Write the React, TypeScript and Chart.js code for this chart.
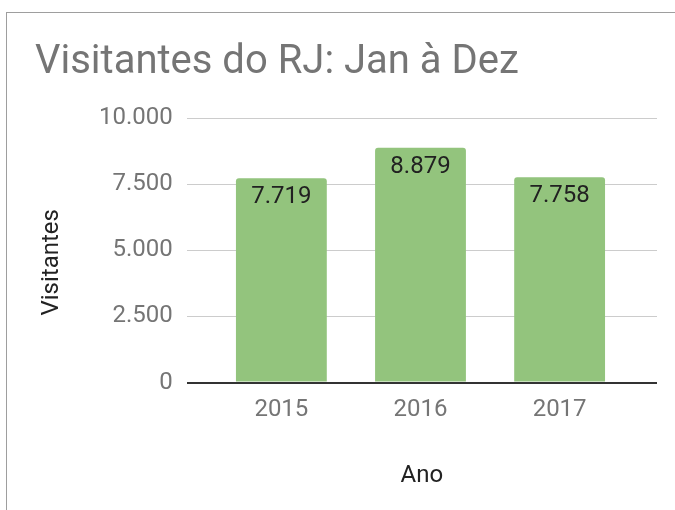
import React, { useEffect, useRef } from "react";
import { Chart, registerables } from "chart.js";

Chart.register(...registerables);

const categories = ["2015", "2016", "2017"];
const visitantes = [7719, 8879, 7758];
const yTicks = [0, 2500, 5000, 7500, 10000];
const chartTitle = "Visitantes do RJ: Jan à Dez";
const xTitle = "Ano";
const yTitle = "Visitantes";

const fmt = (v: number) =>
  String(Math.round(v)).replace(/\B(?=(\d{3})+(?!\d))/g, ".");

const FONT = "Roboto";

const valueLabels = {
  id: "valueLabels",
  afterDatasetsDraw(chart: any) {
    const ctx = chart.ctx;
    const meta = chart.getDatasetMeta(0);
    ctx.save();
    ctx.font = `24px ${FONT}`;
    ctx.fillStyle = "#212121";
    ctx.textAlign = "center";
    ctx.textBaseline = "middle";
    meta.data.forEach((bar: any, i: number) => {
      ctx.fillText(fmt(visitantes[i]), bar.x, bar.y + 19);
    });
    ctx.restore();
  },
};

const yAxisTitle = {
  id: "yAxisTitle",
  afterDraw(chart: any) {
    const { ctx, chartArea, scales } = chart;
    const y = scales.y;
    ctx.save();
    ctx.translate(y.left + 16.5, (chartArea.top + chartArea.bottom) / 2 + 12);
    ctx.rotate(-Math.PI / 2);
    ctx.font = `24px ${FONT}`;
    ctx.fillStyle = "#222222";
    ctx.textAlign = "center";
    ctx.textBaseline = "middle";
    ctx.fillText(yTitle, 0, 0);
    ctx.restore();
  },
};

export default function App() {
  const ref = useRef<HTMLCanvasElement | null>(null);

  useEffect(() => {
    if (!ref.current) return;
    const chart = new Chart(ref.current, {
      type: "bar",
      data: {
        datasets: [
          {
            label: yTitle,
            data: visitantes.map((v, i) => ({ x: i, y: v })),
            backgroundColor: "#93c47d",
            borderRadius: 3,
            barPercentage: 0.653,
            categoryPercentage: 1,
          },
        ],
      },
      options: {
        responsive: false,
        animation: false,
        devicePixelRatio: 1,
        layout: { padding: { left: 35, right: 18, top: 0, bottom: 0 } },
        plugins: {
          legend: { display: false },
          tooltip: { enabled: false },
          title: {
            display: true,
            text: chartTitle,
            align: "start",
            color: "#757575",
            font: { family: FONT, size: 40, weight: "normal" },
            padding: { top: 39, bottom: 31 },
          },
        },
        scales: {
          x: {
            type: "linear",
            min: -0.68,
            max: 2.7,
            offset: false,
            afterBuildTicks: (s: any) => {
              s.ticks = categories.map((_, i) => ({ value: i }));
            },
            ticks: {
              callback: (v: any) => categories[v] ?? "",
              color: "#757575",
              font: { family: FONT, size: 24 },
              padding: 13.4,
              autoSkip: false,
              maxRotation: 0,
            },
            grid: { display: false, drawTicks: false },
            border: { display: false },
            title: {
              display: true,
              text: xTitle,
              color: "#222222",
              font: { family: FONT, size: 24 },
              padding: { top: 23.2, bottom: 19.8 },
            },
          },
          y: {
            type: "linear",
            min: 0,
            max: 10000,
            afterBuildTicks: (s: any) => {
              s.ticks = yTicks.map((v) => ({ value: v }));
            },
            afterFit: (s: any) => {
              s.width += 50;
            },
            ticks: {
              callback: (v: any) => fmt(Number(v)),
              color: "#757575",
              font: { family: FONT, size: 24 },
              padding: 14,
            },
            grid: {
              drawTicks: false,
              color: (c: any) => (c.tick && c.tick.value === 0 ? "#333333" : "#cccccc"),
              lineWidth: (c: any) => (c.tick && c.tick.value === 0 ? 2 : 1),
            },
            border: { display: false },
          },
        },
      } as any,
      plugins: [valueLabels, yAxisTitle],
    });
    return () => chart.destroy();
  }, []);

  return (
    <div
      style={{
        position: "fixed",
        left: 0,
        top: 0,
        width: 675,
        height: 510,
        background: "#ffffff",
        overflow: "hidden",
      }}
    >
      <div
        style={{
          position: "absolute",
          left: 6,
          top: 12,
          width: 700,
          height: 520,
          borderLeft: "1px solid #9e9e9e",
          borderTop: "1px solid #9e9e9e",
        }}
      />
      <canvas
        ref={ref}
        width={675}
        height={510}
        style={{ position: "absolute", left: 0, top: 0, width: 675, height: 510 }}
      />
    </div>
  );
}
